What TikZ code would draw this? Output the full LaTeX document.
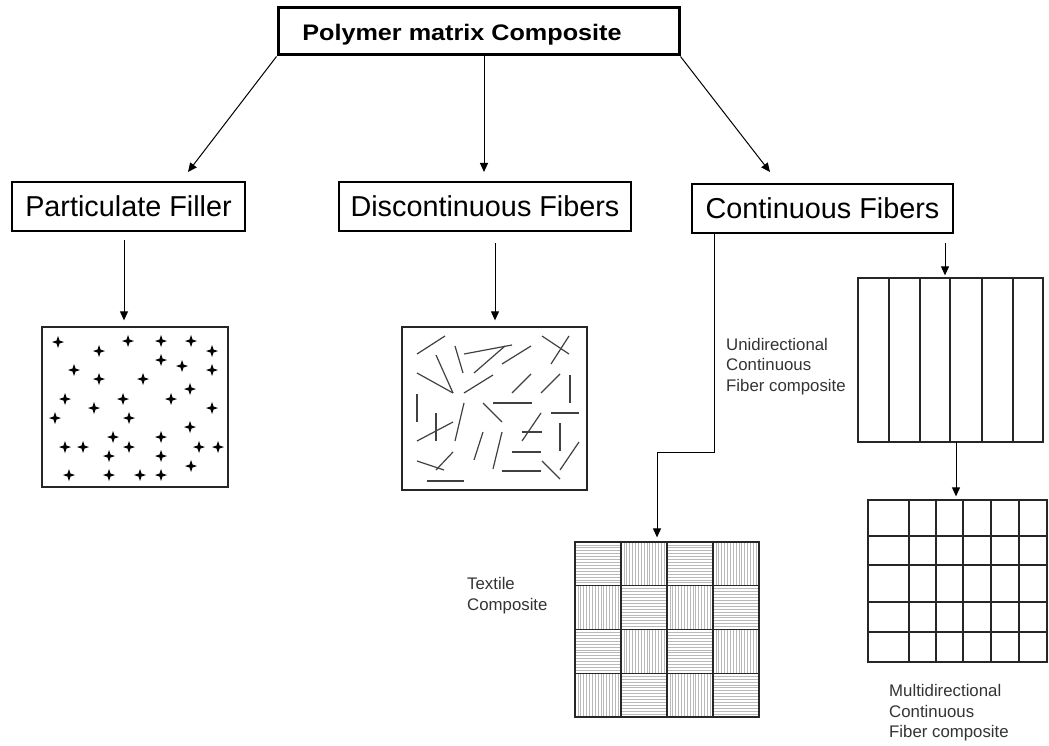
\documentclass[tikz,border=0pt]{standalone}
\usepackage{fontspec}
\setmainfont{Liberation Sans}
\usetikzlibrary{arrows.meta,calc}
\begin{document}
\begin{tikzpicture}[x=1pt,y=-1pt,
  arr/.style={draw=black, line width=1pt, -{Triangle[length=9pt,width=8pt]}},
  topbox/.style={draw, line width=3pt, rectangle, inner sep=0pt},
  catbox/.style={draw, line width=2pt, rectangle, inner sep=0pt, font=\fontsize{28.8pt}{34pt}\selectfont, text height=20.6pt, text depth=0pt},
  picbox/.style={draw=black!85, line width=1.3pt, rectangle, inner sep=0pt},
  lbl/.style={anchor=north west, inner sep=0pt, align=left, text=black!80, font=\fontsize{16.8pt}{20.8pt}\selectfont},
  fib/.style={draw=black!75, line width=1.2pt},
  hatch/.style={draw=gray!55, line width=0.7pt},
  gridline/.style={draw=black!85, line width=1.3pt},
  starmark/.pic={\fill[black] (0,-6) -- (1.5,-1.5) -- (6,0) -- (1.5,1.5) -- (0,6) -- (-1.5,1.5) -- (-6,0) -- (-1.5,-1.5) -- cycle;}
]
\useasboundingbox (0,0) rectangle (1049,746);

% top
\node[topbox, minimum width=401pt, minimum height=47pt] (pmc) at (478.5,31.5) {};
\node[inner sep=0pt, anchor=base, font=\bfseries\fontsize{22.5pt}{26pt}\selectfont] (pmct) at (462,40.7) {\scalebox{1.12}[1]{Polymer matrix Composite}};

% categories
\node[catbox, minimum width=233pt, minimum height=49pt] (pf) at (128.5,206.5) {Particulate Filler};
\node[catbox, minimum width=292pt, minimum height=49pt] (df) at (485,206.5) {Discontinuous Fibers};
\node[catbox, minimum width=261pt, minimum height=49pt] (cf) at (822.5,208.5) {Continuous Fibers};

% picture boxes
\node[picbox, minimum width=186pt, minimum height=160pt] (pbox) at (135,407) {};
\node[picbox, minimum width=185pt, minimum height=163pt] (dbox) at (494.5,408.5) {};
\node[picbox, minimum width=184pt, minimum height=175pt] (tbox) at (667,629.5) {};
\node[picbox, minimum width=185pt, minimum height=164pt] (ubox) at (950.5,360) {};
\node[picbox, minimum width=179pt, minimum height=162pt] (mbox) at (957.5,581) {};

% particles
\foreach \x/\y in {58/342,128/341,161/341,191/341,99/351,212/351,161/360,182/366,74/370,212/370,
  99/379,143/379,190/389,65/399,123/399,171/399,94/408,212/408,55/418,129/418,190/427,113/437,
  161/437,65/447,83/447,129/447,199/447,218/447,109/456,161/456,191/466,69/475,109/475,140/475,161/475}
  \pic at (\x,\y) {starmark};

% discontinuous fibres
\foreach \a/\b/\c/\d in {417/354/445/336, 436/355/453/393, 455/346/463/373, 464/354/512/345,
  474/373/505/346, 502/364/531/346, 542/336/569/354, 551/364/569/336, 417/373/453/393,
  464/393/493/375, 512/393/531/374, 541/393/560/374, 570/375/570/403, 417/394/417/422,
  493/403/532/403, 483/403/502/422, 464/403/455/441, 436/413/436/441, 417/441/453/422,
  522/441/541/413, 551/413/579/413, 522/432/542/432, 560/423/560/451, 483/432/474/460,
  502/432/493/469, 512/452/541/452, 579/442/560/470, 417/461/444/470, 453/452/436/470,
  502/471/541/471, 542/461/560/479, 427/481/464/481}
  \draw[fib] (\a,\b) -- (\c,\d);

% textile hatching
\foreach \i in {0,...,3}{
  \foreach \j in {0,...,3}{
    \pgfmathsetmacro{\xo}{575+46*\i}
    \pgfmathsetmacro{\yo}{542+43.75*\j}
    \pgfmathtruncatemacro{\parity}{mod(\i+\j,2)}
    \ifnum\parity=0
      \foreach \k in {1,...,14}{\draw[hatch] (\xo,\yo+\k*2.917) -- (\xo+46,\yo+\k*2.917);}
    \else
      \foreach \k in {1,...,15}{\draw[hatch] (\xo+\k*2.875,\yo) -- (\xo+\k*2.875,\yo+43.75);}
    \fi
  }
}
\foreach \x in {621,667,713}{\draw[gridline] (\x,542) -- (\x,717);}
\foreach \y in {585.75,629.5,673.25}{\draw[gridline] (575,\y) -- (759,\y);}
\node[picbox, minimum width=184pt, minimum height=175pt] (tboxb) at (667,629.5) {};

% unidirectional
\foreach \x in {889,920,950,982,1013}{\draw[gridline] (\x,278) -- (\x,442);}

% multidirectional
\foreach \x in {909,936,963,991,1019}{\draw[gridline] (\x,500) -- (\x,662);}
\foreach \y in {536,565,602,632}{\draw[gridline] (868,\y) -- (1047,\y);}

% coordinates for connectors
\coordinate (a1e) at (188,172);
\coordinate (a2s) at (484,55);
\coordinate (a2e) at (484,172);
\coordinate (a3e) at (770,172);
\coordinate (ps) at (124,240);
\coordinate (ds) at (495,243);
\coordinate (cs) at (714,233);
\coordinate (bend) at (657,452);
\coordinate (us) at (945,243);
\coordinate (ms) at (956,442);

% connectors
\draw[arr] (pmc.south west) -- (a1e);
\draw[arr] (a2s) -- (a2e);
\draw[arr] (pmc.south east) -- (a3e);
\draw[arr, shorten >=6pt] (ps) -- (ps |- pbox.north);
\draw[arr, shorten >=6pt] (ds) -- (ds |- dbox.north);
\draw[arr, shorten >=4pt] (cs) |- (bend) -- (bend |- tbox.north);
\draw[arr, shorten >=2pt] (us) -- (us |- ubox.north);
\draw[arr, shorten >=3pt] (ms) -- (ms |- mbox.north);

% labels
\node[lbl] (uni) at (726,337.8) {Unidirectional\\Continuous\\Fiber composite};
\node[lbl] (tex) at (467,577) {Textile\\Composite};
\node[lbl] (mul) at (889,684) {Multidirectional\\Continuous\\Fiber composite};
\end{tikzpicture}
\end{document}
